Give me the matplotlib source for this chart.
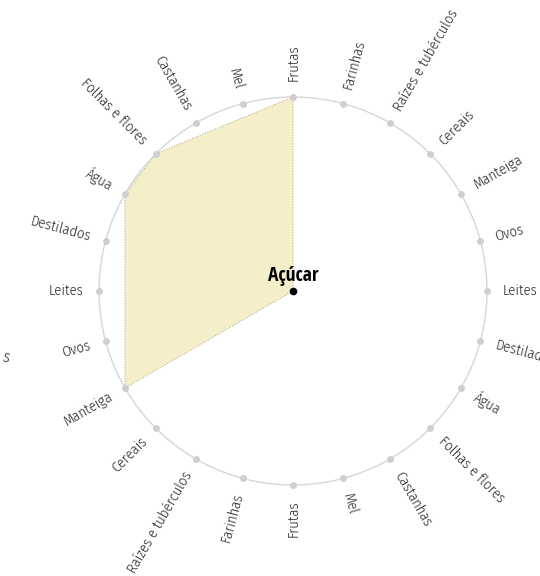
import numpy as np
import matplotlib
matplotlib.use("Agg")
import matplotlib.pyplot as plt

# ---- data ----
base_labels = ["Frutas", "Farinhas", "Raízes e tubérculos", "Cereais", "Manteiga",
               "Ovos", "Leites", "Destilados", "Água", "Folhas e flores",
               "Castanhas", "Mel"]
spoke_labels = base_labels + base_labels          # 24 spokes around the circle
center_label = "Açúcar"
# polygon: spoke index and value (0 = center, 1 = on circle)
poly_spokes = [None, 16, 20, 21, 24]             # Açúcar(center), Manteiga, Água, Folhas e flores, Frutas
poly_values = [0, 1, 1, 1, 1]

LABEL_FONT = ["Fira Sans Condensed", "DejaVu Sans"]
BOLD_FONT = ["Open Sans Condensed", "DejaVu Sans"]
n = len(spoke_labels)
theta = np.arange(n) * 2 * np.pi / n

fig = plt.figure(figsize=(5.4, 5.76), dpi=100)
W, H = 540, 576
cx, cy, R = 293, 291, 194
ax = fig.add_axes([(cx - R) / W, (H - cy - R) / H, 2 * R / W, 2 * R / H], projection="polar")
ax.set_theta_zero_location("N")
ax.set_theta_direction(-1)
ax.set_ylim(0, 1)
ax.grid(False)
ax.set_xticks([])
ax.set_yticks([])
ax.spines["polar"].set_color("#d6d6d6")
ax.spines["polar"].set_linewidth(1.0)
ax.patch.set_alpha(0)

# polygon
pt = [0 if s is None else s * 2 * np.pi / n for s in poly_spokes]
ax.fill(pt, poly_values, facecolor="#f4efc8", edgecolor="none", zorder=1)
ax.plot(pt + [pt[0]], poly_values + [poly_values[0]], linestyle=(0, (1, 1.5)),
        color="#b9b490", lw=0.8, zorder=2)

# spoke dots
ax.plot(theta, np.ones(n), "o", color="#cfcfcf", ms=5, mec="none", zorder=3, clip_on=False)
# center dot
ax.plot([0], [0], "o", color="black", ms=4.5, zorder=4)

# labels
for t, lab in zip(theta, spoke_labels):
    deg = np.degrees(t)
    if deg < 180:
        rot, ha = 90 - deg, "left"
    else:
        rot, ha = 270 - deg, "right"
    ax.text(t, 1.08, lab, rotation=rot, rotation_mode="anchor", ha=ha, va="center",
            fontsize=10.5, color="#262626", family=LABEL_FONT, fontweight=300, clip_on=False)

ax.annotate(center_label, xy=(0, 0), xytext=(0, 7), textcoords="offset points",
            ha="center", va="baseline", fontsize=14, fontweight="bold",
            family=BOLD_FONT, color="black")

# partial label fragment at left edge
fig.text(0.5 / W, 1 - 357 / H, "s", ha="left", va="center", rotation=-15,
         fontsize=11.5, color="#262626", family=LABEL_FONT, fontweight=300)

fig.savefig("out.png", dpi=100)
